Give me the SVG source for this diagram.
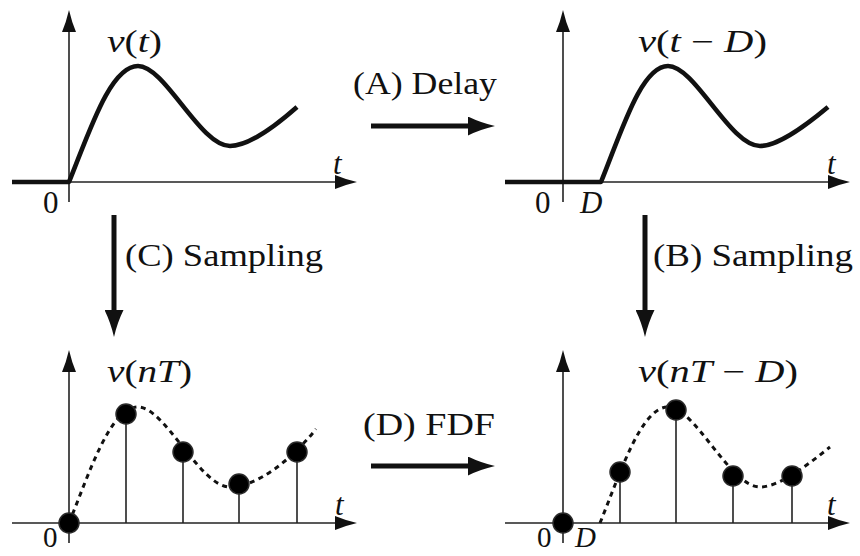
<svg xmlns="http://www.w3.org/2000/svg" width="860" height="556" viewBox="0 0 860 556">
<style>
text{font-family:"Liberation Serif","DejaVu Serif",serif;font-size:31px;fill:#111}
.it{font-style:italic}
.axis{stroke:#222;stroke-width:1.6;fill:none}
.curve{stroke:#111;stroke-width:4.6;fill:none;stroke-linejoin:round}
.dash{stroke:#111;stroke-width:3;fill:none;stroke-dasharray:5 4.5}
.stem{stroke:#222;stroke-width:1.6}
.dot{fill:#000;stroke:#2a2a2a;stroke-width:1.5}
.big{stroke:#111;stroke-width:5;fill:none}
</style>
<defs>
<marker id="ax" viewBox="0 0 22 14" refX="0" refY="7" markerWidth="22" markerHeight="14" markerUnits="userSpaceOnUse" orient="auto">
<path d="M22,7 Q10,4.2 0,0 L0,14 Q10,9.8 22,7 Z" fill="#111"/>
</marker>
<marker id="bg" viewBox="0 0 27 19" refX="0" refY="9.5" markerWidth="27" markerHeight="19" markerUnits="userSpaceOnUse" orient="auto">
<path d="M27,9.5 Q12,6 0,0 L0,19 Q12,13 27,9.5 Z" fill="#111"/>
</marker>
</defs>

<g id="panel-vt">
<line class="axis" x1="69" y1="202" x2="69" y2="32" marker-end="url(#ax)"/>
<line class="axis" x1="12" y1="182" x2="335" y2="182" marker-end="url(#ax)"/>
<path class="curve" d="M12,182 L69,182 C89,133 110,66 138,66 C165,66 200,146 230,146 C250,146 280,122 297,107"/>
<text x="107" y="52" textLength="55" lengthAdjust="spacingAndGlyphs"><tspan class="it">v</tspan>(<tspan class="it">t</tspan>)</text>
<text x="333" y="174" class="it">t</text>
<text x="43" y="213">0</text>
</g>

<g id="panel-vtD">
<line class="axis" x1="563" y1="202" x2="563" y2="32" marker-end="url(#ax)"/>
<line class="axis" x1="505" y1="182" x2="828" y2="182" marker-end="url(#ax)"/>
<path class="curve" d="M505,182 L601,182 C621,133 641,66 668,66 C695,66 730,146 760,146 C780,146 810,122 828,107"/>
<text x="638" y="52" textLength="129" lengthAdjust="spacingAndGlyphs"><tspan class="it">v</tspan>(<tspan class="it">t</tspan> − <tspan class="it">D</tspan>)</text>
<text x="827" y="174" class="it">t</text>
<text x="535" y="213">0</text>
<text x="580" y="213" class="it">D</text>
</g>

<g id="panel-vnT">
<line class="axis" x1="69" y1="543" x2="69" y2="372" marker-end="url(#ax)"/>
<line class="axis" x1="12" y1="523" x2="335" y2="523" marker-end="url(#ax)"/>
<path class="dash" d="M69,523 C89,474 110,407 138,407 C165,407 200,487 230,487 C255,487 290,462 316,429"/>
<line class="stem" x1="126" y1="523" x2="126" y2="414"/>
<line class="stem" x1="183" y1="523" x2="183" y2="452"/>
<line class="stem" x1="239" y1="523" x2="239" y2="484"/>
<line class="stem" x1="297" y1="523" x2="297" y2="452"/>
<circle class="dot" cx="69" cy="523" r="10"/>
<circle class="dot" cx="126" cy="414" r="10"/>
<circle class="dot" cx="183" cy="452" r="10"/>
<circle class="dot" cx="239" cy="484" r="10"/>
<circle class="dot" cx="297" cy="452" r="10"/>
<text x="107" y="382" textLength="85" lengthAdjust="spacingAndGlyphs"><tspan class="it">v</tspan>(<tspan class="it">nT</tspan>)</text>
<text x="335" y="515" class="it">t</text>
<text x="43" y="547" style="font-size:29px">0</text>
</g>

<g id="panel-vnTD">
<line class="axis" x1="563" y1="543" x2="563" y2="372" marker-end="url(#ax)"/>
<line class="axis" x1="505" y1="523" x2="828" y2="523" marker-end="url(#ax)"/>
<path class="dash" d="M600,523 C620,474 641,407 668,407 C695,407 730,487 760,487 C780,487 810,463 830,447"/>
<line class="stem" x1="620" y1="523" x2="620" y2="472"/>
<line class="stem" x1="676" y1="523" x2="676" y2="410"/>
<line class="stem" x1="733" y1="523" x2="733" y2="476"/>
<line class="stem" x1="792" y1="523" x2="792" y2="476"/>
<circle class="dot" cx="563" cy="523" r="10"/>
<circle class="dot" cx="620" cy="472" r="10"/>
<circle class="dot" cx="676" cy="410" r="10"/>
<circle class="dot" cx="733" cy="476" r="10"/>
<circle class="dot" cx="792" cy="476" r="10"/>
<text x="638" y="382" textLength="160" lengthAdjust="spacingAndGlyphs"><tspan class="it">v</tspan>(<tspan class="it">nT</tspan> − <tspan class="it">D</tspan>)</text>
<text x="827" y="515" class="it">t</text>
<text x="537" y="547" style="font-size:29px">0</text>
<text x="575" y="547" class="it" style="font-size:29px">D</text>
</g>

<g id="connectors">
<line class="big" x1="371" y1="126" x2="468" y2="126" marker-end="url(#bg)"/>
<text x="353" y="94" textLength="144" lengthAdjust="spacingAndGlyphs">(A) Delay</text>
<line class="big" x1="645" y1="215" x2="645" y2="310" marker-end="url(#bg)"/>
<text x="653" y="266" textLength="200" lengthAdjust="spacingAndGlyphs">(B) Sampling</text>
<line class="big" x1="114" y1="215" x2="114" y2="310" marker-end="url(#bg)"/>
<text x="125" y="266" textLength="198" lengthAdjust="spacingAndGlyphs">(C) Sampling</text>
<line class="big" x1="371" y1="466" x2="468" y2="466" marker-end="url(#bg)"/>
<text x="363" y="435" textLength="132" lengthAdjust="spacingAndGlyphs">(D) FDF</text>
</g>
</svg>
